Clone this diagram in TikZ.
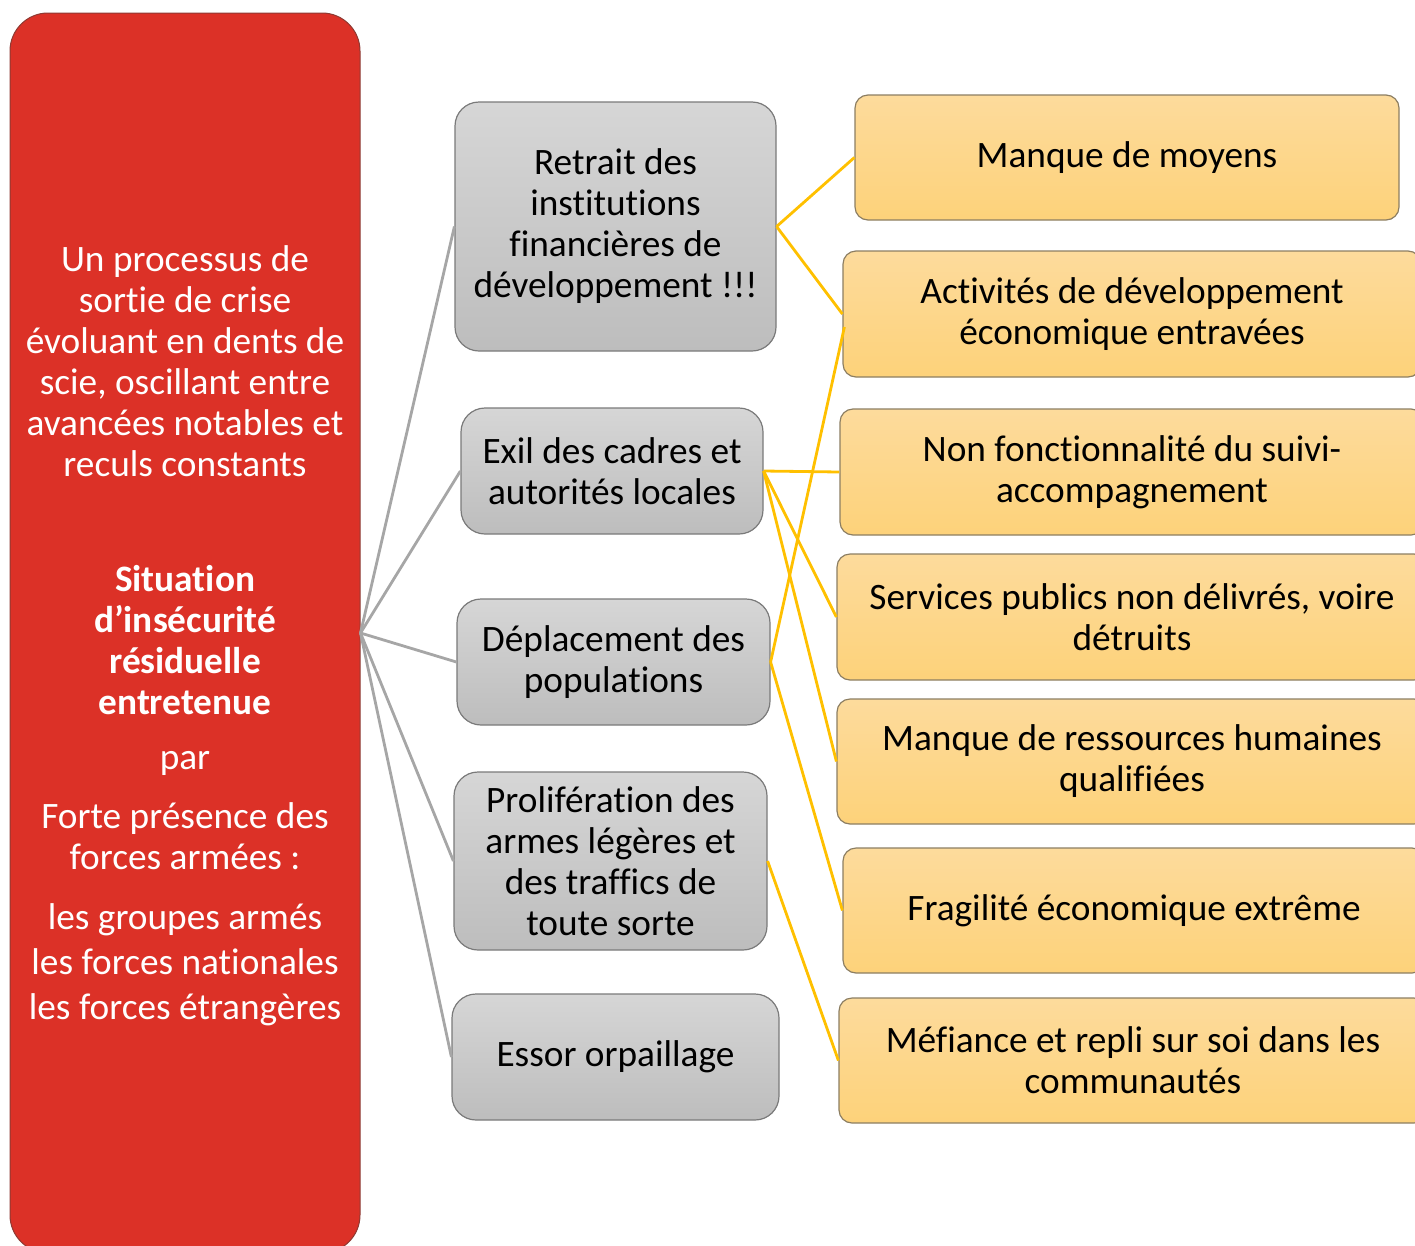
\documentclass[tikz,border=0pt]{standalone}
\usepackage{fontspec}
\setmainfont{Carlito}[Ligatures=NoCommon]
\definecolor{redfill}{HTML}{DC3127}
\definecolor{redborder}{HTML}{8E3A33}
\definecolor{gtop}{HTML}{D6D6D6}
\definecolor{gbot}{HTML}{BDBDBD}
\definecolor{gborder}{HTML}{7A7A7A}
\definecolor{ytop}{HTML}{FDDB9C}
\definecolor{ybot}{HTML}{FDD27A}
\definecolor{yborder}{HTML}{8C7E62}
\definecolor{glinec}{HTML}{A6A6A6}
\definecolor{ylinec}{HTML}{FFC000}
\begin{document}
\begin{tikzpicture}[x=1pt,y=-1pt,
  txt/.style={font=\fontsize{37.3}{41}\selectfont, align=center, inner sep=0pt},
  redbox/.style={draw=redborder, line width=1pt, fill=redfill, rounded corners=38pt, minimum width=350pt, minimum height=1240pt, inner sep=0pt},
  redtxt/.style={txt, text=white},
  graybox/.style={txt, draw=gborder, line width=1.2pt, top color=gtop, bottom color=gbot, rounded corners=24pt},
  ybox/.style={txt, draw=yborder, line width=1.2pt, top color=ytop, bottom color=ybot, rounded corners=13pt},
  gline/.style={draw=glinec, line width=2.8pt},
  yline/.style={draw=ylinec, line width=2.8pt}
]
\useasboundingbox (0,0) rectangle (1415,1245);

% left red box
\node[redbox] (red) at (185,633) {};
\node[redtxt] (ra) at (185,361) {Un processus de\\sortie de crise\\évoluant en dents de\\scie, oscillant entre\\avancées notables et\\reculs constants};
\node[redtxt, font=\fontsize{37.3}{41}\selectfont\bfseries] (rb) at (185,640) {Situation\\d’insécurité\\résiduelle\\entretenue};
\node[redtxt] (rc) at (185,763) {par};
\node[redtxt] (rd) at (185,836) {Forte présence des\\forces armées :};
\node[redtxt, font=\fontsize{37.3}{45}\selectfont] (re) at (185,965) {les groupes armés\\les forces nationales\\les forces étrangères};

% grey boxes
\node[graybox, minimum width=321pt, minimum height=249pt] (g1) at (615.5,226.5) {Retrait des\\institutions\\financières de\\développement !!!};
\node[graybox, minimum width=302pt, minimum height=126pt] (g2) at (612,471) {Exil des cadres et\\autorités locales};
\node[graybox, minimum width=313pt, minimum height=126pt] (g3) at (613.5,662) {Déplacement des\\populations};
\node[graybox, minimum width=313pt, minimum height=178pt] (g4) at (610.5,861) {Prolifération des\\armes légères et\\des traffics de\\toute sorte};
\node[graybox, minimum width=327pt, minimum height=126pt] (g5) at (615.5,1057) {Essor orpaillage};

% yellow boxes
\node[ybox, minimum width=544pt, minimum height=125pt] (y1) at (1127,157.5) {Manque de moyens};
\node[ybox, minimum width=578pt, minimum height=126pt] (y2) at (1132,314) {Activités de développement\\économique entravées};
\node[ybox, minimum width=584pt, minimum height=126pt] (y3) at (1132,472) {Non fonctionnalité du suivi-\\accompagnement};
\node[ybox, minimum width=590pt, minimum height=126pt] (y4) at (1132,617) {Services publics non délivrés, voire\\détruits};
\node[ybox, minimum width=590pt, minimum height=125pt] (y5) at (1132,761.5) {Manque de ressources humaines\\qualifiées};
\node[ybox, minimum width=582pt, minimum height=125pt] (y6) at (1134,910.5) {Fragilité économique extrême};
\node[ybox, minimum width=588pt, minimum height=125pt] (y7) at (1133,1060.5) {Méfiance et repli sur soi dans les\\communautés};

% grey connectors
\foreach \g in {g1,g2,g3,g4,g5} \draw[gline] (red.east) -- (\g.west);

% yellow connectors
\draw[yline] (g1.east) -- (y1.west);
\draw[yline] (g1.east) -- (y2.west);
\draw[yline] (g2.east) -- (y3.west);
\draw[yline] (g2.east) -- (y4.west);
\draw[yline] (g2.east) -- (y5.west);
\draw[yline] (g3.east) -- ([xshift=2pt,yshift=-13pt]y2.west);
\draw[yline] (g3.east) -- (y6.west);
\draw[yline] (g4.east) -- (y7.west);
\end{tikzpicture}
\end{document}
